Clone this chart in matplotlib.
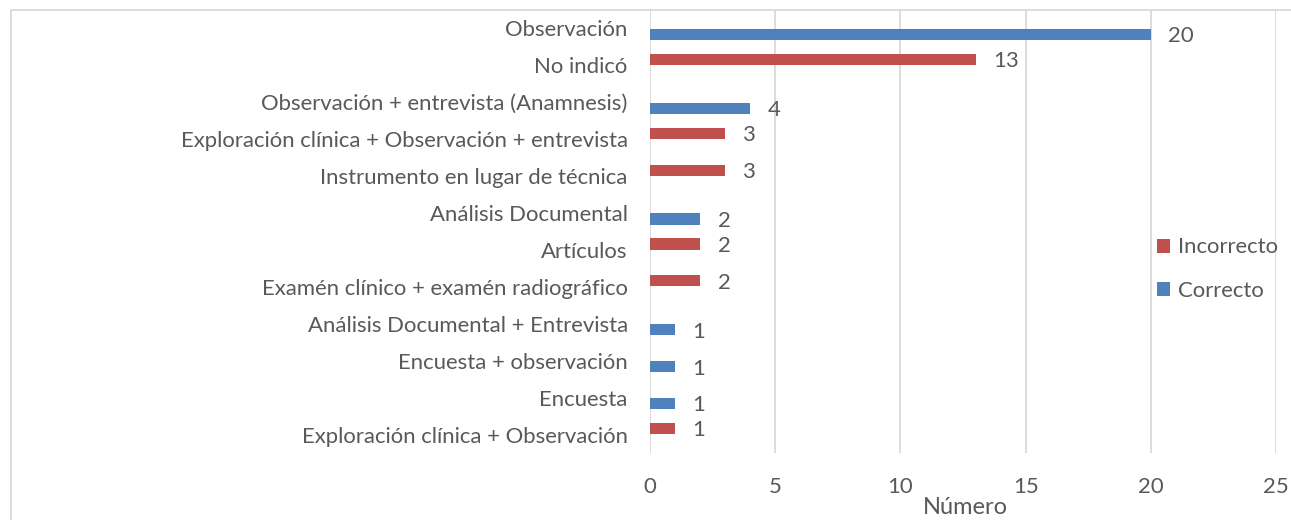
import numpy as np
import matplotlib.pyplot as plt
from matplotlib.patches import Rectangle

plt.rcParams['font.family'] = ['Lato', 'DejaVu Sans']

# categories top to bottom, with the count split into the two series
categorias = ['Observación', 'No indicó', 'Observación + entrevista (Anamnesis)',
              'Exploración clínica + Observación + entrevista', 'Instrumento en lugar de técnica',
              'Análisis Documental', 'Artículos', 'Examén clínico + examén radiográfico',
              'Análisis Documental + Entrevista', 'Encuesta + observación', 'Encuesta',
              'Exploración clínica + Observación']
correcto = [20, 0, 4, 0, 0, 2, 0, 0, 1, 1, 1, 0]
incorrecto = [0, 13, 0, 3, 3, 0, 2, 2, 0, 0, 0, 1]
xticks = [0, 5, 10, 15, 20, 25]

azul = '#4F81BD'
rojo = '#C0504D'
gris_texto = '#595959'
fs = 15.9

W, H = 1291, 520
fig = plt.figure(figsize=(W / 100, H / 100), dpi=100)
ax = fig.add_axes([650 / W, 1 - 453 / H, (1276 - 650) / W, (453 - 10) / H])

y = np.arange(len(categorias))
alto = 0.3
off = 0.162
b_cor = ax.barh(y + off, correcto, height=alto, color=azul, label='Correcto')
b_inc = ax.barh(y - off, incorrecto, height=alto, color=rojo, label='Incorrecto')

for barras, vals in [(b_cor, correcto), (b_inc, incorrecto)]:
    for b, v in zip(barras, vals):
        if v > 0:
            ax.text(v + 0.7, b.get_y() + b.get_height() / 2 + 0.05, str(v),
                    va='center', ha='left', fontsize=fs, color=gris_texto)

ax.set_xlim(0, 25)
ax.set_ylim(len(categorias) - 0.5, -0.5)
ax.set_xticks(xticks)
ax.set_yticks(y)
ax.set_yticklabels(categorias, fontsize=fs, color=gris_texto)
ax.tick_params(axis='x', labelsize=fs, colors=gris_texto, length=0, pad=17.5)
ax.tick_params(axis='y', length=0, pad=16)
ax.grid(axis='x', color='#D9D9D9', linewidth=1.3)
ax.set_axisbelow(True)
for s in ax.spines.values():
    s.set_visible(False)

fig.text(965 / W, 1 - 507 / H, 'Número', ha='center', va='center',
         fontsize=17, color=gris_texto)

handles = [b_inc, b_cor]
fig.legend(handles, ['Incorrecto', 'Correcto'], loc='center left',
           bbox_to_anchor=(1157 / W, 1 - 269 / H), frameon=False,
           fontsize=fs, labelcolor=gris_texto, handlelength=0.6, handleheight=0.6,
           handletextpad=0.35, labelspacing=1.05, borderaxespad=0, borderpad=0)

# marco exterior del gráfico
fig.patches.append(Rectangle((11 / W, -0.1), 1.2, 1.1 - 10 / H, transform=fig.transFigure,
                             fill=False, edgecolor='#D9D9D9', linewidth=1.3))

fig.savefig('out.png', dpi=100)
